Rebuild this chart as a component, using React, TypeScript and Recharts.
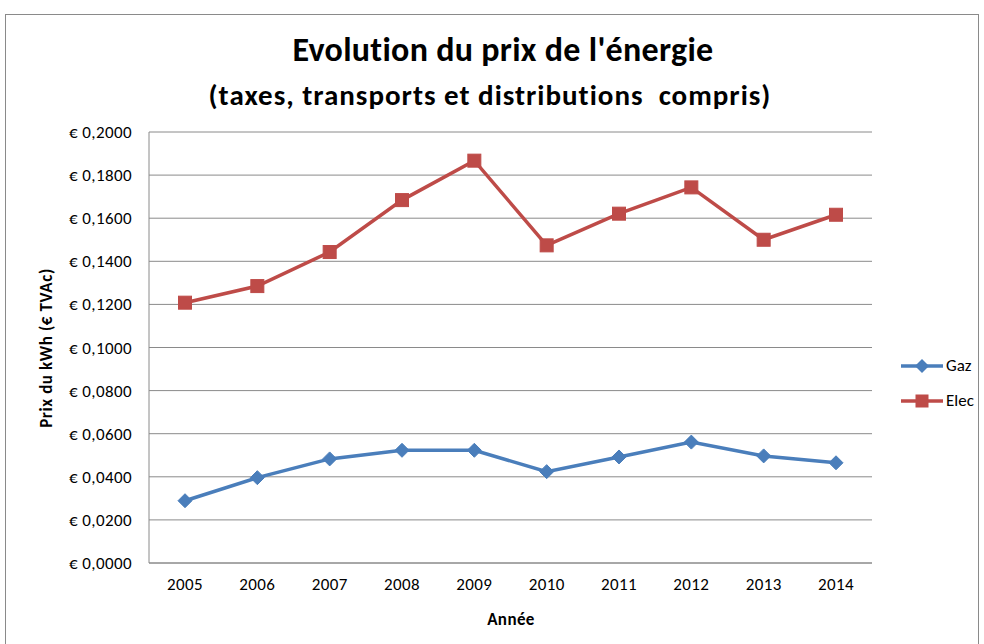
import React from 'react';
import { LineChart, Line, XAxis, YAxis, CartesianGrid } from 'recharts';

const years = ['2005', '2006', '2007', '2008', '2009', '2010', '2011', '2012', '2013', '2014'];
const gaz = [0.0289, 0.0396, 0.0483, 0.0523, 0.0523, 0.0424, 0.0492, 0.0561, 0.0497, 0.0465];
const elec = [0.1208, 0.1285, 0.1443, 0.1684, 0.1867, 0.1474, 0.1621, 0.1743, 0.1500, 0.1616];
const yTicks = [0, 0.02, 0.04, 0.06, 0.08, 0.1, 0.12, 0.14, 0.16, 0.18, 0.2];
const seriesNames = ['Gaz', 'Elec'];

const data = years.map((y, i) => ({ year: y, Gaz: gaz[i], Elec: elec[i] }));

const FONT = 'Carlito, Lato, "Open Sans", sans-serif';
const BLUE = '#4A7EBB';
const RED = '#BE4B48';

const fmt = (v: number) => '€ ' + v.toFixed(4).replace('.', ',');

const Diamond = (props: any) => {
  const { cx, cy } = props;
  if (cx == null || cy == null) return null;
  const r = 7;
  return <path d={`M${cx},${cy - r}L${cx + r},${cy}L${cx},${cy + r}L${cx - r},${cy}Z`} fill={BLUE} stroke={BLUE} strokeWidth={1} />;
};

const Square = (props: any) => {
  const { cx, cy } = props;
  if (cx == null || cy == null) return null;
  const r = 6.5;
  return <rect x={cx - r} y={cy - r} width={2 * r} height={2 * r} fill={RED} stroke={RED} strokeWidth={1} />;
};

const tickStyle = { fontFamily: FONT, fontSize: 17, fill: '#000', letterSpacing: 0.4 };

const LegendBox = () => {
  const colors = [BLUE, RED];
  return (
    <div style={{ position: 'absolute', left: 900, top: 348, fontFamily: FONT, fontSize: 17, color: '#000' }}>
      {seriesNames.map((name, i) => (
        <div key={name} style={{ display: 'flex', alignItems: 'center', height: 35 }}>
          <svg width={44} height={16}>
            <line x1={1} y1={8} x2={43} y2={8} stroke={colors[i]} strokeWidth={3.5} />
            {i === 0 ? (
              <path d="M22,1L29,8L22,15L15,8Z" fill={colors[i]} />
            ) : (
              <rect x={15.5} y={1.5} width={13} height={13} fill={colors[i]} />
            )}
          </svg>
          <span style={{ marginLeft: 2 }}>{name}</span>
        </div>
      ))}
    </div>
  );
};

export default function App() {
  return (
    <div style={{ position: 'absolute', left: 0, top: 0, width: 984, height: 644, background: '#fff', overflow: 'hidden' }}>
      <div style={{ position: 'absolute', left: 5, top: 14, width: 974, height: 700, border: '1px solid #8a8a8a', boxSizing: 'border-box' }} />
      <div style={{ position: 'absolute', left: 0, top: 29, width: 1006, textAlign: 'center', fontFamily: FONT, fontWeight: 700, fontSize: 34, lineHeight: '42px', letterSpacing: 0.3, color: '#000' }}>
        Evolution du prix de l'énergie
      </div>
      <div style={{ position: 'absolute', left: 0, top: 77, width: 980, textAlign: 'center', fontFamily: FONT, fontWeight: 700, fontSize: 29, lineHeight: '36px', letterSpacing: 1, color: '#000', whiteSpace: 'pre' }}>
        {'(taxes, transports et distributions  compris)'}
      </div>
      <div style={{ position: 'absolute', left: 46, top: 348, width: 0, height: 0 }}>
        <div style={{ position: 'absolute', transform: 'translate(-50%, -50%) rotate(-90deg)', whiteSpace: 'nowrap', fontFamily: FONT, fontWeight: 700, fontSize: 17, letterSpacing: 0.6, color: '#000' }}>
          Prix du kWh (€ TVAc)
        </div>
      </div>
      <div style={{ position: 'absolute', left: 511, top: 619, width: 0, height: 0 }}>
        <div style={{ position: 'absolute', transform: 'translate(-50%, -50%)', whiteSpace: 'nowrap', fontFamily: FONT, fontWeight: 700, fontSize: 17, letterSpacing: 0.4, color: '#000' }}>
          Année
        </div>
      </div>
      <div style={{ position: 'absolute', left: 0, top: 0 }}>
        <LineChart width={984} height={644} data={data} margin={{ top: 132, right: 112, bottom: 51, left: 0 }}>
          <CartesianGrid vertical={false} stroke="#8a8a8a" strokeWidth={1} />
          <XAxis
            dataKey="year"
            padding={{ left: 36, right: 36 }}
            tickLine={false}
            axisLine={{ stroke: '#8a8a8a' }}
            tick={tickStyle}
            tickMargin={9}
            height={30}
          />
          <YAxis
            width={149}
            domain={[0, 0.2]}
            ticks={yTicks}
            tickFormatter={fmt}
            tickLine={false}
            axisLine={{ stroke: '#8a8a8a' }}
            tick={tickStyle}
            tickSize={8}
            tickMargin={9}
            interval={0}
          />
          <Line type="linear" dataKey="Gaz" stroke={BLUE} strokeWidth={3.5} dot={<Diamond />} activeDot={false} isAnimationActive={false} />
          <Line type="linear" dataKey="Elec" stroke={RED} strokeWidth={3.5} dot={<Square />} activeDot={false} isAnimationActive={false} />
        </LineChart>
      </div>
      <LegendBox />
    </div>
  );
}
